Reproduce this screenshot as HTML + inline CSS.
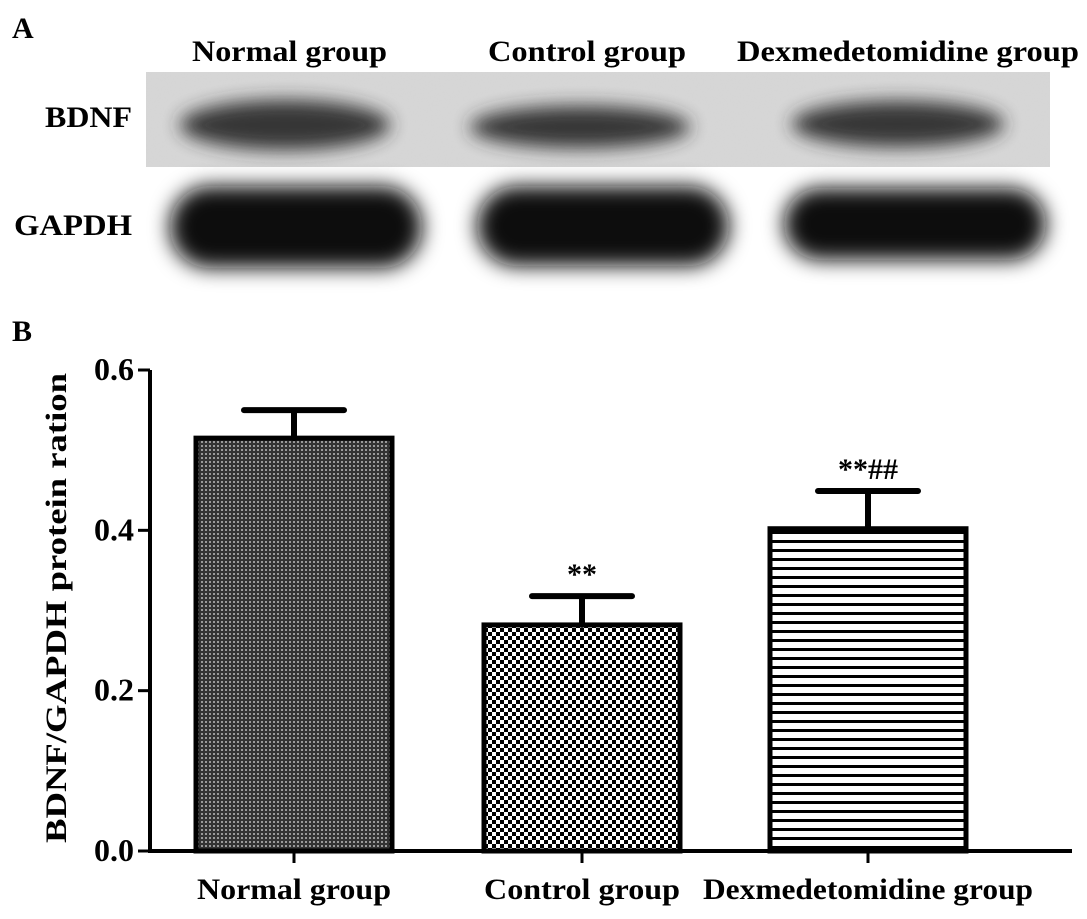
<!DOCTYPE html>
<html><head><meta charset="utf-8"><style>
body{margin:0;background:#fff;}
svg{display:block;font-family:"Liberation Serif",serif;font-weight:bold;}
</style></head><body>
<svg width="1087" height="919" viewBox="0 0 1087 919" xmlns="http://www.w3.org/2000/svg">
<defs>
<filter id="blur" x="-30%" y="-60%" width="160%" height="220%"><feGaussianBlur stdDeviation="10"/></filter>
<filter id="blur2" x="-30%" y="-80%" width="160%" height="260%"><feGaussianBlur stdDeviation="9"/></filter>
<filter id="noise" x="0" y="0" width="100%" height="100%"><feTurbulence type="fractalNoise" baseFrequency="0.6" numOctaves="2" result="n"/><feColorMatrix type="matrix" values="0 0 0 0 0.7 0 0 0 0 0.7 0 0 0 0 0.7 0 0 0 -0.6 0.8"/></filter>
<clipPath id="clipTop"><rect x="146" y="72" width="904" height="95"/></clipPath>
<pattern id="pDots" width="4" height="4" patternUnits="userSpaceOnUse"><rect width="4" height="4" fill="#333"/><circle cx="2" cy="2" r="1" fill="#bbb"/></pattern>
<pattern id="pCheck" width="8" height="8" patternUnits="userSpaceOnUse"><rect width="8" height="8" fill="#fff"/><rect width="4" height="4" fill="#000"/><rect x="4" y="4" width="4" height="4" fill="#000"/></pattern>
<pattern id="pLines" width="8" height="9" patternUnits="userSpaceOnUse"><rect width="8" height="9" fill="#fff"/><rect y="0" width="8" height="3" fill="#000"/></pattern>
</defs>
<text x="12" y="38" font-size="30">A</text>
<text x="192" y="61" font-size="30" textLength="195" lengthAdjust="spacingAndGlyphs">Normal group</text>
<text x="488" y="61" font-size="30" textLength="198" lengthAdjust="spacingAndGlyphs">Control group</text>
<text x="737" y="61" font-size="30" textLength="342" lengthAdjust="spacingAndGlyphs">Dexmedetomidine group</text>
<text x="45" y="127" font-size="30" textLength="87" lengthAdjust="spacingAndGlyphs">BDNF</text>
<text x="14" y="235" font-size="30" textLength="118" lengthAdjust="spacingAndGlyphs">GAPDH</text>
<g clip-path="url(#clipTop)">
<rect x="146" y="72" width="904" height="95" fill="#d4d4d4"/>
<rect x="146" y="72" width="904" height="95" filter="url(#noise)" opacity="0.6"/>
<g filter="url(#blur2)" fill="#2e2e2e" opacity="0.95">
<ellipse cx="285" cy="125" rx="105" ry="25"/>
<ellipse cx="580" cy="127" rx="110" ry="21"/>
<ellipse cx="898" cy="124" rx="106" ry="23"/>
</g>
</g>
<g>
<g filter="url(#blur)" fill="#0c0c0c">
<rect x="170" y="186" width="252" height="82" rx="40"/>
<rect x="477" y="186" width="252" height="80" rx="40"/>
<rect x="784" y="188" width="262" height="72" rx="36"/>
</g></g>
<text x="12" y="341" font-size="30">B</text>
<g id="chart"></g>
</svg>
<script>
const categories = ["Normal group","Control group","Dexmedetomidine group"];
const means = [0.515, 0.282, 0.402];
const errors = [0.035, 0.036, 0.047];
const annotations = ["", "**", "**##"];
const yTicks = [0.0, 0.2, 0.4, 0.6];
const tickLabels = ["0.0","0.2","0.4","0.6"];
const fills = ["url(#pDots)","url(#pCheck)","url(#pLines)"];
const labelWidths = [194, 196, 330];
const NS = "http://www.w3.org/2000/svg";
const g = document.getElementById('chart');
const y0 = 851, yTop = 370, xAxis = 150, xEnd = 1072;
const centers = [294, 582, 868], barW = 196;
function y(v){ return y0 - v/0.6*(y0-yTop); }
function mk(tag, attrs, parent){ const e=document.createElementNS(NS,tag); for(const k in attrs) e.setAttribute(k,attrs[k]); (parent||g).appendChild(e); return e; }
categories.forEach((c,i)=>{
  const cx = centers[i];
  const bar = mk('rect',{x:cx-barW/2,y:y(means[i]),width:barW,height:y0-y(means[i]),fill:fills[i],stroke:'#000','stroke-width':5});
  
  
  const eb = mk('path',{d:`M${cx} ${y(means[i])} V${y(means[i]+errors[i])} M${cx-50} ${y(means[i]+errors[i])} H${cx+50}`,stroke:'#000','stroke-width':6,'stroke-linecap':'round',fill:'none'});
  
  
  if(annotations[i]){
    const t = mk('text',{x:cx,y:y(means[i]+errors[i])-12,'font-size':30,'text-anchor':'middle'});
    t.textContent = annotations[i];
    
    
  }
  const tk = mk('line',{x1:cx,x2:cx,y1:y0,y2:y0+12,stroke:'#000','stroke-width':3});
  
  
  const lb = mk('text',{x:cx,y:899,'font-size':30,'text-anchor':'middle',textLength:labelWidths[i],lengthAdjust:'spacingAndGlyphs'});
  lb.textContent = c;
  
  
});
const ax = mk('path',{d:`M${xAxis} ${yTop} V${y0} H${xEnd}`,stroke:'#000','stroke-width':4,fill:'none'});


yTicks.forEach((v,i)=>{
  const l = mk('line',{x1:xAxis-12,x2:xAxis,y1:y(v),y2:y(v),stroke:'#000','stroke-width':3});
  
  
  const t = mk('text',{x:xAxis-16,y:y(v)+10,'font-size':32,'text-anchor':'end'});
  t.textContent = tickLabels[i];
  
  
});
const yt = mk('text',{x:0,y:0,'font-size':30,'text-anchor':'middle',textLength:470,lengthAdjust:'spacingAndGlyphs',transform:'translate(66 608) rotate(-90)'});
yt.textContent = 'BDNF/GAPDH protein ration';


</script>
</body></html>
